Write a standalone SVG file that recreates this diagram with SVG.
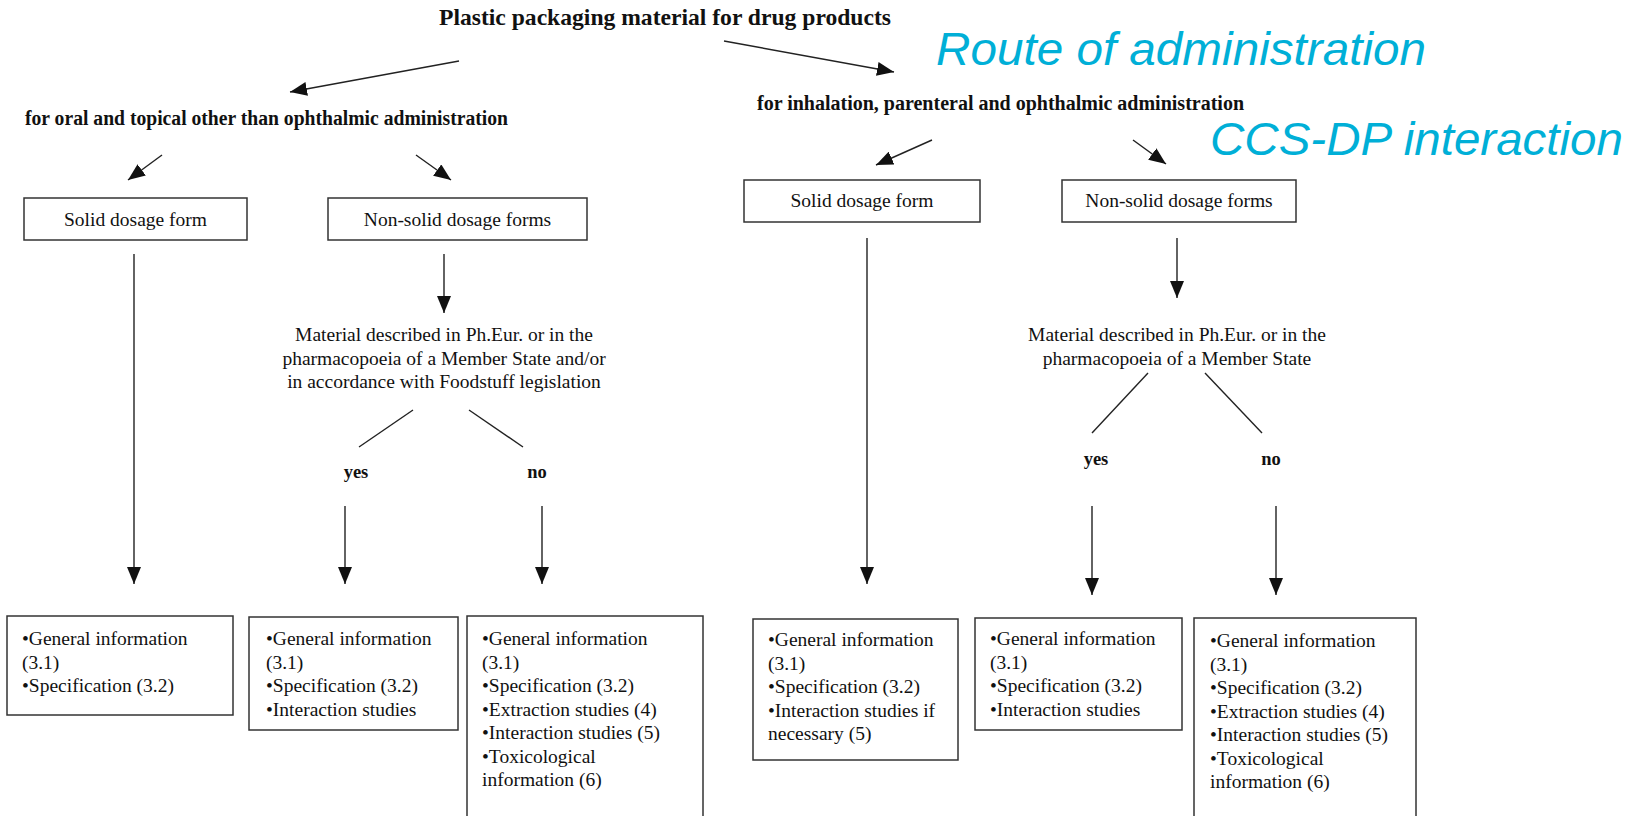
<svg xmlns="http://www.w3.org/2000/svg" width="1641" height="816" viewBox="0 0 1641 816">
<defs>
<marker id="ah" markerUnits="userSpaceOnUse" markerWidth="18" markerHeight="14" refX="17" refY="7" orient="auto">
<path d="M0,0 L17,7 L0,14 z" fill="#111"/>
</marker>
<style>
.t{font-family:"Liberation Serif","Times New Roman",serif;fill:#111}
.b{font-weight:bold}
.n{font-size:19.5px}
.c{text-anchor:middle}
.cy{font-family:"Liberation Sans",Arial,sans-serif;font-style:italic;fill:#00AFD7;font-size:47px}
.box{fill:#fff;stroke:#333;stroke-width:1.5}
.ln{stroke:#222;stroke-width:1.4;fill:none}
.ar{stroke:#222;stroke-width:1.4;fill:none;marker-end:url(#ah)}
</style>
</defs>
<rect width="1641" height="816" fill="#fff"/>

<g id="title"><text class="t b" x="439" y="25" font-size="24" textLength="452" lengthAdjust="spacingAndGlyphs">Plastic packaging material for drug products</text></g>
<g id="route-label"><text class="cy" x="936" y="65" textLength="490" lengthAdjust="spacingAndGlyphs">Route of administration</text></g>
<g id="ccs-label"><text class="cy" x="1210" y="155" textLength="413" lengthAdjust="spacingAndGlyphs">CCS-DP interaction</text></g>

<g id="oral"><text class="t b" x="25" y="125" font-size="20" textLength="483" lengthAdjust="spacingAndGlyphs">for oral and topical other than ophthalmic administration</text></g>
<g id="inhal"><text class="t b" x="757" y="110" font-size="20" textLength="487" lengthAdjust="spacingAndGlyphs">for inhalation, parenteral and ophthalmic administration</text></g>

<g id="solid-left"><rect class="box" x="24" y="198" width="223" height="42"/><text class="t n c" x="135.5" y="226">Solid dosage form</text></g>
<g id="nonsolid-left"><rect class="box" x="328" y="198" width="259" height="42"/><text class="t n c" x="457.5" y="226">Non-solid dosage forms</text></g>
<g id="solid-right"><rect class="box" x="744" y="180" width="236" height="42"/><text class="t n c" x="862" y="207">Solid dosage form</text></g>
<g id="nonsolid-right"><rect class="box" x="1062" y="180" width="234" height="42"/><text class="t n c" x="1179" y="207">Non-solid dosage forms</text></g>

<g id="material-left"><text class="t n c" x="444" y="341">Material described in Ph.Eur. or in the</text><text class="t n c" x="444" y="365">pharmacopoeia of a Member State and/or</text><text class="t n c" x="444" y="388">in accordance with Foodstuff legislation</text></g>
<g id="material-right"><text class="t n c" x="1177" y="341">Material described in Ph.Eur. or in the</text><text class="t n c" x="1177" y="365">pharmacopoeia of a Member State</text></g>

<g id="yes-left"><text class="t c b" x="356" y="478" font-size="18.5">yes</text></g>
<g id="no-left"><text class="t c b" x="537" y="478" font-size="18.5">no</text></g>
<g id="yes-right"><text class="t c b" x="1096" y="465" font-size="18.5">yes</text></g>
<g id="no-right"><text class="t c b" x="1271" y="465" font-size="18.5">no</text></g>

<g id="res1"><rect class="box" x="7" y="616" width="226" height="99"/>
<text class="t n"><tspan x="22" y="645">•General information</tspan><tspan x="22" y="668.5">(3.1)</tspan><tspan x="22" y="692">•Specification (3.2)</tspan></text></g>
<g id="res2"><rect class="box" x="249" y="617" width="209" height="113"/>
<text class="t n"><tspan x="266" y="645">•General information</tspan><tspan x="266" y="668.5">(3.1)</tspan><tspan x="266" y="692">•Specification (3.2)</tspan><tspan x="266" y="715.5">•Interaction studies</tspan></text></g>
<g id="res3"><rect class="box" x="467" y="616" width="236" height="220"/>
<text class="t n"><tspan x="482" y="645">•General information</tspan><tspan x="482" y="668.5">(3.1)</tspan><tspan x="482" y="692">•Specification (3.2)</tspan><tspan x="482" y="715.5">•Extraction studies (4)</tspan><tspan x="482" y="739">•Interaction studies (5)</tspan><tspan x="482" y="762.5">•Toxicological</tspan><tspan x="482" y="786">information (6)</tspan></text></g>
<g id="res4"><rect class="box" x="753" y="619" width="205" height="141"/>
<text class="t n"><tspan x="768" y="646">•General information</tspan><tspan x="768" y="669.5">(3.1)</tspan><tspan x="768" y="693">•Specification (3.2)</tspan><tspan x="768" y="716.5">•Interaction studies if</tspan><tspan x="768" y="740">necessary (5)</tspan></text></g>
<g id="res5"><rect class="box" x="975" y="618" width="207" height="112"/>
<text class="t n"><tspan x="990" y="645">•General information</tspan><tspan x="990" y="668.5">(3.1)</tspan><tspan x="990" y="692">•Specification (3.2)</tspan><tspan x="990" y="715.5">•Interaction studies</tspan></text></g>
<g id="res6"><rect class="box" x="1194" y="618" width="222" height="220"/>
<text class="t n"><tspan x="1210" y="647">•General information</tspan><tspan x="1210" y="670.5">(3.1)</tspan><tspan x="1210" y="694">•Specification (3.2)</tspan><tspan x="1210" y="717.5">•Extraction studies (4)</tspan><tspan x="1210" y="741">•Interaction studies (5)</tspan><tspan x="1210" y="764.5">•Toxicological</tspan><tspan x="1210" y="788">information (6)</tspan></text></g>

<g id="connectors">
<line class="ar" x1="459" y1="61" x2="290" y2="92"/>
<line class="ar" x1="724" y1="41" x2="894" y2="72"/>
<line class="ar" x1="162" y1="155" x2="128" y2="180"/>
<line class="ar" x1="416" y1="155" x2="451" y2="180"/>
<line class="ar" x1="932" y1="140" x2="876" y2="165"/>
<line class="ar" x1="1133" y1="140" x2="1166" y2="164"/>
<line class="ar" x1="134" y1="254" x2="134" y2="584"/>
<line class="ar" x1="444" y1="254" x2="444" y2="313"/>
<line class="ln" x1="413" y1="410" x2="359" y2="447"/>
<line class="ln" x1="469" y1="410" x2="523" y2="447"/>
<line class="ar" x1="345" y1="506" x2="345" y2="584"/>
<line class="ar" x1="542" y1="506" x2="542" y2="584"/>
<line class="ar" x1="867" y1="238" x2="867" y2="584"/>
<line class="ar" x1="1177" y1="238" x2="1177" y2="298"/>
<line class="ln" x1="1148" y1="373" x2="1092" y2="433"/>
<line class="ln" x1="1205" y1="373" x2="1262" y2="433"/>
<line class="ar" x1="1092" y1="506" x2="1092" y2="595"/>
<line class="ar" x1="1276" y1="506" x2="1276" y2="595"/>
</g>
</svg>
